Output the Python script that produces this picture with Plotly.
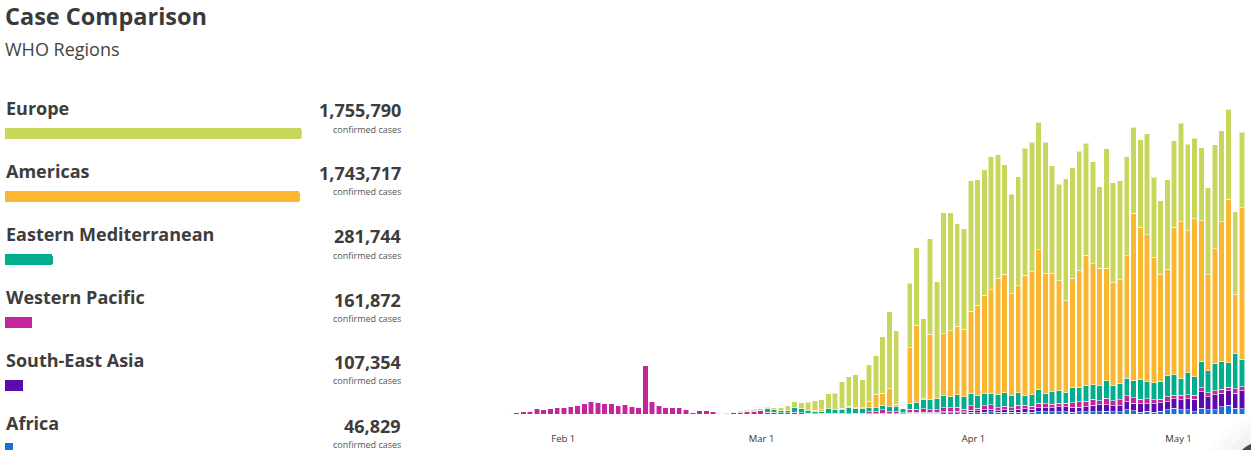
import pandas as pd
import plotly.graph_objects as go

W, H = 1251, 450

# ---------------- data ----------------
dates = pd.date_range("2020-01-19", "2020-05-11", freq="D")

regions = ["Europe", "Americas", "Eastern Mediterranean", "Western Pacific", "South-East Asia", "Africa"]
totals = [1755790, 1743717, 281744, 161872, 107354, 46829]
colors = ["#c8d65b", "#fbb730", "#00ae8f", "#c4259a", "#5b0bad", "#1a72d4"]
total_label = "confirmed cases"
tick_dates = ["2020-02-01", "2020-03-01", "2020-04-01", "2020-05-01"]
tick_text = ["Feb 1", "Mar 1", "Apr 1", "May 1"]

# daily new confirmed cases (thousands), Jan 19 .. May 11
europe = [
    0, 0, 0, 0, 0, 0, 0, 0, 0, 0, 0, 0, 0,
    0, 0, 0, 0, 0, 0, 0, 0, 0, 0, 0, 0, 0, 0, 0, 0, 0, 0, 0, 0, 0, 0, 0, 0.1, 0.1, 0.2, 0.2, 0.3, 0.4,
    0.4, 0.5, 0.6, 1.0, 1.4, 1.8, 1.9, 2.5, 2.8, 3.0, 4.4, 4.9, 7.9, 8.8, 10.0, 8.4, 11.0, 11.5, 17.0, 23.0,
    22.0, 0.0, 19.4, 23.2, 24.1, 28.6, 35.1, 36.4, 35.5, 30.7, 30.1,
    39.1, 37.6, 37.6, 39.9, 37.0, 32.8, 29.9, 32.7, 38.1, 38.8, 38.2, 39.4, 32.2, 29.0, 36.6,
    33.2, 35.7, 33.6, 30.5, 24.4, 35.9, 29.9, 29.8, 29.8, 25.8, 26.3, 30.3, 24.0, 22.0, 26.8,
    25.9, 29.5, 26.0, 24.2, 21.8, 26.2, 31.1, 27.2, 27.0, 24.7, 22.6,
]
americas = [
    0, 0, 0, 0, 0, 0, 0, 0, 0, 0, 0, 0, 0,
    0, 0, 0, 0, 0, 0, 0, 0, 0, 0, 0, 0, 0, 0, 0, 0, 0, 0, 0, 0, 0, 0, 0, 0, 0, 0, 0, 0, 0,
    0, 0, 0, 0, 0, 0, 0, 0, 0.4, 0.4, 0.1, 0.1, 0.4, 0.5, 0.2, 0.2, 2.0, 4.0, 3.8, 5.5,
    0.7, 0.0, 16.8, 23.1, 0.1, 19.7, 0.1, 18.6, 19.7, 20.6, 20.2,
    24.8, 27.1, 29.5, 31.1, 35.0, 35.6, 30.6, 32.1, 36.1, 37.0, 42.1, 36.0, 35.5, 33.0, 27.4,
    32.7, 35.2, 39.2, 36.4, 35.2, 33.8, 31.0, 31.0, 36.7, 50.3, 45.6, 44.1, 37.7, 32.3, 32.0,
    44.2, 47.1, 42.5, 47.4, 42.2, 28.8, 34.4, 41.9, 49.0, 17.9, 45.5,
]
east_med = [
    0, 0, 0, 0, 0, 0, 0, 0, 0, 0, 0, 0, 0,
    0, 0, 0, 0, 0, 0, 0, 0, 0, 0, 0, 0, 0, 0, 0, 0, 0, 0, 0, 0, 0, 0, 0, 0, 0.1, 0.1, 0.2, 0.2, 0.2,
    0.2, 1.0, 0.8, 0.5, 0.6, 1.3, 1.1, 0.8, 0.6, 0.6, 1.3, 1.0, 1.1, 1.7, 1.4, 1.4, 1.2, 1.2, 1.2, 1.4,
    1.5, 1.2, 1.6, 2.1, 2.8, 3.0, 3.3, 3.5, 3.3, 3.7, 3.8,
    3.5, 3.8, 3.7, 3.4, 3.8, 4.0, 3.5, 3.7, 2.9, 3.4, 4.0, 3.1, 3.8, 3.7, 3.3,
    4.6, 4.2, 4.6, 4.3, 4.5, 5.2, 4.5, 5.0, 5.2, 5.0, 6.0, 5.1, 5.1, 5.2, 6.3,
    6.2, 5.0, 6.7, 5.5, 8.0, 6.5, 8.2, 8.4, 7.4, 10.4, 8.2,
]
west_pac = [
    0.1, 0.1, 0.2, 0.2, 0.2, 0.3, 0.5, 0.7, 0.7, 1.6, 1.4, 1.7, 1.9,
    1.9, 2.4, 2.6, 3.1, 3.8, 3.6, 3.1, 3.2, 2.5, 2.9, 2.3, 1.9, 14.6, 3.9, 2.7, 2.0, 2.0, 1.9, 1.5, 0.4,
    1.1, 1.1, 0.8, 0.3, 0.3, 0.5, 0.6, 0.7, 0.9,
    1.0, 0.6, 0.6, 0.5, 0.5, 0.6, 0.5, 0.3, 0.2, 0.3, 0.3, 0.3, 0.3, 0.2, 0.3, 0.3, 0.5, 0.6, 1.0, 0.6,
    0.6, 0.3, 0.9, 0.9, 1.1, 0.7, 0.7, 1.2, 1.2, 1.2, 0.8,
    1.4, 0.8, 1.2, 1.3, 0.9, 1.1, 0.9, 1.2, 1.1, 0.9, 1.3, 1.1, 1.0, 1.0, 1.1,
    1.4, 1.7, 1.6, 1.8, 1.3, 2.0, 1.6, 1.7, 1.8, 1.7, 1.4, 1.5, 1.2, 1.0, 1.4,
    1.1, 1.4, 1.2, 1.2, 1.1, 1.2, 1.3, 1.2, 1.1, 1.4, 1.2,
]
se_asia = [
    0, 0, 0, 0, 0, 0, 0, 0, 0, 0, 0, 0, 0,
    0, 0, 0, 0, 0, 0, 0, 0, 0, 0, 0, 0, 0, 0, 0, 0, 0, 0, 0, 0, 0, 0, 0, 0, 0, 0, 0, 0, 0,
    0, 0, 0, 0, 0, 0, 0, 0, 0, 0, 0, 0, 0, 0, 0, 0, 0.1, 0.1, 0.1, 0.1,
    0.1, 0.1, 0.3, 0.3, 0.3, 0.3, 0.3, 0.4, 0.4, 0.4, 0.3,
    0.6, 0.5, 0.7, 0.8, 0.5, 0.7, 0.5, 0.9, 1.0, 0.9, 1.3, 1.2, 1.3, 1.5, 1.4,
    1.5, 1.3, 1.5, 1.9, 2.0, 1.9, 1.8, 1.9, 2.5, 2.2, 2.5, 2.2, 2.5, 2.6, 2.5,
    2.8, 3.0, 3.3, 3.7, 5.0, 4.0, 4.5, 4.1, 4.3, 4.5, 5.4,
]
africa = [
    0, 0, 0, 0, 0, 0, 0, 0, 0, 0, 0, 0, 0,
    0, 0, 0, 0, 0, 0, 0, 0, 0, 0, 0, 0, 0, 0, 0, 0, 0, 0, 0, 0, 0, 0, 0, 0, 0, 0, 0, 0, 0,
    0, 0, 0, 0, 0, 0, 0, 0, 0, 0, 0, 0, 0, 0, 0, 0, 0.1, 0.1, 0.2, 0.1,
    0.1, 0.1, 0.3, 0.3, 0.3, 0.3, 0.3, 0.4, 0.4, 0.5, 0.4,
    0.6, 0.5, 0.6, 0.7, 0.6, 0.6, 0.6, 0.6, 0.6, 0.6, 0.7, 0.8, 0.7, 0.8, 0.8,
    0.6, 0.8, 0.8, 0.8, 0.8, 0.9, 0.7, 0.7, 1.3, 1.1, 0.6, 0.9, 0.6, 0.9, 1.3,
    1.8, 1.3, 1.3, 0.8, 1.8, 1.3, 1.3, 2.2, 2.7, 1.8, 1.7,
]

series = [europe, americas, east_med, west_pac, se_asia, africa]

# ---------------- geometry helpers ----------------
def px_x(p):
    return p / W

def px_y(p):
    return 1 - p / H

FONT = "Open Sans"
DARK = "#3d3d3d"

fig = go.Figure()

# stacked daily bars (bottom to top: Africa ... Europe)
for name, vals, col in reversed(list(zip(regions, series, colors))):
    fig.add_trace(go.Bar(
        x=dates, y=vals, name=name, xaxis="x", yaxis="y",
        marker=dict(color=col, line=dict(width=1, color="rgba(255,255,255,0.55)")),
        hoverinfo="x+y+name",
    ))

# empty helper trace so the date-label axis is drawn
fig.add_trace(go.Scatter(x=tick_dates, y=[None] * len(tick_dates), xaxis="x2", yaxis="y",
                         mode="markers", hoverinfo="skip", showlegend=False))

# left comparison bars
fig.add_trace(go.Bar(
    x=totals, y=regions, orientation="h", xaxis="x3", yaxis="y3",
    width=0.18, marker=dict(color=colors, cornerradius=2, line=dict(width=0)),
    hoverinfo="x+y",
))

# ---------------- axes ----------------
feb1 = pd.Timestamp("2020-02-01")
plot_l, plot_r = 440, 1250
bar_feb1_px, bar_px_day = 564.0, 6.78
lab_feb1_px, lab_px_day = 563.3, 6.836
fmt = "%Y-%m-%d %H:%M:%S"
x_range = [(feb1 + pd.Timedelta(days=(plot_l - bar_feb1_px) / bar_px_day)).strftime(fmt),
           (feb1 + pd.Timedelta(days=(plot_r - bar_feb1_px) / bar_px_day)).strftime(fmt)]
x2_range = [(feb1 + pd.Timedelta(days=(plot_l - lab_feb1_px) / lab_px_day)).strftime(fmt),
            (feb1 + pd.Timedelta(days=(plot_r - lab_feb1_px) / lab_px_day)).strftime(fmt)]

base_px, top_px = 414.3, 95.0
k_per_px = 0.3

fig.update_layout(
    width=W, height=H, autosize=False,
    margin=dict(l=0, r=0, t=0, b=0, pad=0),
    paper_bgcolor="white", plot_bgcolor="rgba(0,0,0,0)",
    showlegend=False, barmode="stack", bargap=0.2,
    font=dict(family=FONT, color=DARK),
    xaxis=dict(domain=[px_x(plot_l), px_x(plot_r)], range=x_range, type="date",
               visible=False, fixedrange=True),
    xaxis2=dict(domain=[px_x(plot_l), px_x(plot_r)], range=x2_range, type="date",
                overlaying="x", anchor="y", side="bottom",
                tickmode="array", tickvals=tick_dates, ticktext=tick_text,
                showgrid=False, zeroline=False, showline=False,
                ticks="outside", ticklen=15, tickcolor="rgba(0,0,0,0)",
                tickfont=dict(family=FONT, size=9.5, color="#333333")),
    yaxis=dict(domain=[px_y(base_px), px_y(top_px)], range=[0, (base_px - top_px) * k_per_px],
               visible=False, fixedrange=True),
    xaxis3=dict(domain=[px_x(5), px_x(301.7)], range=[0, max(totals)], visible=False),
    yaxis3=dict(domain=[0, px_y(102)], type="category", categoryorder="array",
                categoryarray=regions, range=[5.027, -0.506], visible=False, anchor="x3"),
)

# ---------------- texts ----------------
K = 0.40
ann = []
ann.append(dict(text="<b>Case Comparison</b>", x=px_x(4), y=px_y(25 - 0.39 * 23.5), xanchor="left",
                yanchor="middle", font=dict(size=23.5, color="#3a3a3a")))
ann.append(dict(text="WHO Regions", x=px_x(4), y=px_y(56 - 0.4 * 18), xanchor="left",
                yanchor="middle", font=dict(size=18, color="#444444")))
name_base = [115, 178, 241, 304, 367, 430]
num_base = [117.3, 180, 243.3, 306.7, 369, 432.7]
for nm, tot, nb, vb in zip(regions, totals, name_base, num_base):
    ann.append(dict(text=f"<b>{nm}</b>", x=px_x(5), y=px_y(nb - K * 18), xanchor="left",
                    yanchor="middle", font=dict(size=18, color="#3d3d3d")))
    ann.append(dict(text=f"<b>{tot:,}</b>", x=px_x(402), y=px_y(vb - K * 18), xanchor="right",
                    yanchor="middle", font=dict(size=18, color="#3d3d3d")))
    ann.append(dict(text=total_label, x=px_x(402), y=px_y(vb + 15.4 - 0.4 * 9), xanchor="right",
                    yanchor="middle", font=dict(size=9, color="#555555")))
for a in ann:
    a.update(xref="paper", yref="paper", showarrow=False, borderpad=0)
fig.update_layout(annotations=ann)

# floating button in the corner (soft shadow + dark disc)
for r, op in [(78, 0.012), (70, 0.014), (62, 0.018)]:
    fig.add_shape(type="circle", xref="paper", yref="paper", layer="above",
                  x0=px_x(1275 - r), x1=px_x(1275 + r), y0=px_y(490 + r), y1=px_y(490 - r),
                  fillcolor=f"rgba(0,0,0,{op})", line=dict(width=0))
fig.add_shape(type="circle", xref="paper", yref="paper", layer="above",
              x0=px_x(1275 - 52), x1=px_x(1275 + 52), y0=px_y(490 + 52), y1=px_y(490 - 52),
              fillcolor="#4a4a4a", line=dict(width=0))

fig.write_html("out.html", config={"displayModeBar": False},
               post_script="document.body.style.margin='0px';document.body.style.overflow='hidden';")
